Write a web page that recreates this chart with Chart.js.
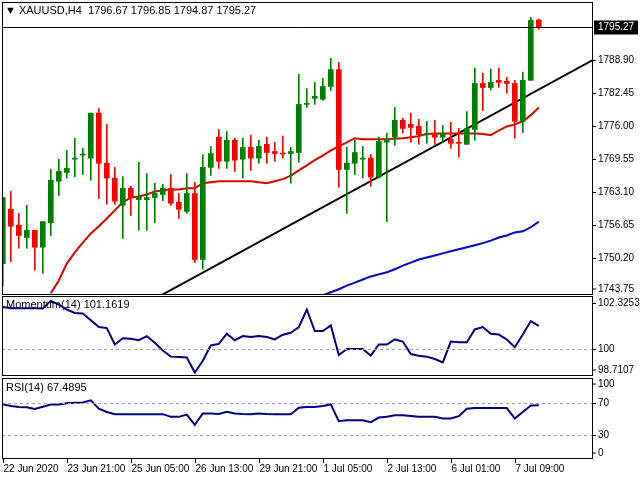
<!DOCTYPE html>
<html>
<head>
<meta charset="utf-8">
<script src="https://cdn.jsdelivr.net/npm/chart.js@4.4.1/dist/chart.umd.min.js"></script>
<style>
  body { margin: 0; background: #fff; width: 640px; height: 480px; overflow: hidden; position: relative; font-family: "Liberation Sans", sans-serif; }
  canvas { position: absolute; left: 0; }
  .lbl { position: absolute; font-size: 11px; color: #000; white-space: pre; }
</style>
</head>
<body>
<canvas id="main" width="640" height="295" style="top:0px"></canvas>
<canvas id="mom" width="640" height="81" style="top:295px"></canvas>
<canvas id="rsi" width="640" height="103" style="top:377px"></canvas>
<div class="lbl" style="left:5px;top:4px">▼ XAUUSD,H4  1796.67 1796.85 1794.87 1795.27</div>
<div class="lbl" style="left:6px;top:298px">Momentum(14) 101.1619</div>
<div class="lbl" style="left:6px;top:381px">RSI(14) 67.4895</div>
<script>
(() => {
  'use strict'

  // H4 candles, one every 4h
  var open  = [1749.1,1759.7,1756.6,1754.2,1755.6,1752.3,1757.1,1765.2,1766.9,1769.5,1770.3,1769.7,1778.5,1768.7,1765.8,1760.5,1763.8,1761.6,1761.6,1762.0,
               1762.6,1763.8,1761.1,1759.3,1762.8,1749.9,1767.9,1773.8,1769.1,1773.2,1769.5,1771.8,1769.7,1772.4,1771.0,1770.7,1770.6,1770.8,1780.2,1781.4,
               1781.2,1783.7,1787.0,1767.5,1768.7,1769.5,1769.7,1766.0,1772.8,1773.8,1777.1,1776.3,1775.9,1774.3,1774.5,1773.8,1773.4,1772.8,1772.4,1775.3,
               1784.3,1783.5,1784.9,1784.7,1784.3,1776.9,1784.9,1796.67]
  var high  = [1762.0,1763.2,1758.9,1760.5,1755.6,1757.3,1767.5,1769.5,1771.2,1773.6,1771.6,1778.5,1779.4,1776.3,1767.9,1766.1,1764.2,1768.9,1766.7,1764.8,
               1764.6,1766.5,1762.8,1766.7,1765.0,1770.4,1772.0,1775.3,1774.9,1773.6,1773.6,1774.2,1773.2,1773.8,1772.8,1774.0,1771.8,1786.1,1783.3,1784.5,
               1785.3,1789.2,1788.4,1771.8,1773.2,1772.0,1770.4,1773.8,1774.6,1779.6,1777.5,1778.5,1777.3,1776.9,1777.1,1776.1,1776.7,1775.5,1778.8,1787.3,
               1786.3,1787.1,1787.3,1785.5,1784.9,1786.5,1797.2,1796.85]
  var low   = [1744.8,1749.5,1752.1,1752.1,1747.8,1747.2,1754.6,1762.4,1765.8,1766.1,1766.5,1765.4,1761.8,1760.7,1760.7,1754.0,1758.5,1755.6,1755.6,1757.1,
               1761.4,1760.5,1757.9,1758.9,1749.3,1748.0,1766.3,1767.7,1767.7,1767.1,1765.8,1767.3,1768.7,1768.7,1769.1,1769.7,1764.8,1768.9,1779.6,1780.2,
               1781.0,1782.9,1764.0,1758.9,1766.5,1765.8,1764.2,1765.8,1757.3,1772.2,1774.6,1772.8,1772.4,1772.6,1772.4,1772.8,1771.6,1769.9,1772.4,1773.2,
               1779.0,1783.0,1783.5,1782.4,1773.6,1774.7,1784.9,1794.87]
  var close = [1762.0,1756.4,1754.6,1755.6,1752.3,1757.3,1765.4,1767.1,1767.7,1769.7,1770.5,1778.5,1768.7,1765.8,1761.3,1763.8,1762.0,1762.2,1762.0,1762.8,
               1763.8,1760.9,1759.7,1762.8,1749.9,1767.9,1770.6,1769.1,1773.2,1769.3,1771.8,1769.7,1772.0,1770.8,1770.6,1770.5,1771.0,1780.2,1780.4,1781.8,
               1783.7,1787.0,1767.5,1768.7,1770.8,1769.7,1766.0,1773.0,1773.4,1777.1,1775.5,1775.7,1774.3,1774.5,1773.8,1774.5,1772.6,1772.6,1775.5,1784.3,
               1783.5,1784.5,1784.5,1784.3,1776.9,1784.9,1796.6,1795.27]

  var maFast = [null,null,null,null,null,null,1743.3,1745.8,1749.1,1751.3,1753.2,1755.0,1756.4,1757.9,1759.5,1761.1,1762.0,1762.2,1762.6,1763.2,
                1763.4,1763.6,1763.6,1763.8,1763.8,1764.8,1765.0,1765.2,1765.2,1765.2,1765.2,1765.2,1765.0,1764.8,1765.2,1765.6,1766.3,1767.3,1768.3,1769.3,
                1770.2,1771.2,1772.0,1772.8,1773.6,1773.4,1773.4,1773.4,1773.4,1773.5,1773.6,1773.8,1774.0,1774.4,1774.5,1774.5,1774.5,1774.5,1774.5,1774.5,
                1774.4,1774.2,1775.1,1775.9,1776.3,1776.9,1778.1,1779.6]
  var maSlow = [null,null,null,null,null,null,null,null,null,null,null,null,null,null,null,null,null,null,null,null,
                null,null,null,null,null,null,null,null,null,null,null,null,null,null,null,null,null,null,null,null,
                1742.9,1743.5,1744.1,1744.8,1745.4,1746.0,1746.6,1747.0,1747.4,1748.0,1748.7,1749.3,1749.9,1750.3,1750.7,1751.1,1751.5,1751.9,1752.3,1752.7,
                1753.1,1753.6,1754.2,1754.6,1755.2,1755.4,1756.2,1757.3]

  var momentum = [102.13,102.07,102.07,102.07,102.06,102.05,102.44,102.25,102.0,101.82,101.8,101.45,101.10,101.05,100.21,100.53,100.5,100.43,100.64,100.3,
                  99.9,99.59,99.57,99.55,98.78,99.38,100.16,100.24,100.76,100.43,100.64,100.59,100.64,100.59,100.47,100.71,100.81,101.10,102.0,100.9,
                  100.9,101.19,99.67,99.98,99.98,99.98,99.64,100.21,100.21,100.47,100.36,99.72,99.64,99.59,99.47,99.3,100.36,100.33,100.33,100.98,
                  101.10,100.76,100.72,100.47,100.07,100.72,101.41,101.1619]
  var rsi = [68.7,66.5,65.0,64.8,62.5,65.5,68.4,68.4,70.0,70.4,70.8,73.6,62.9,58.8,55.8,56.0,56.0,56.0,56.0,56.0,
             56.0,52.6,52.6,55.5,42.4,57.0,57.0,56.2,59.0,57.0,56.2,55.8,57.0,56.2,55.8,55.8,55.8,64.2,65.0,65.0,
             66.3,68.4,47.1,48.3,48.3,48.3,45.9,51.7,52.6,54.6,54.6,53.8,52.6,52.6,52.6,50.5,50.5,53.4,62.9,63.8,
             63.8,63.8,63.8,63.8,50.5,58.8,67.1,67.4895]

  // trend line anchors (bar index, price)
  var trendX = [19.9, 73.8]
  var trendY = [1743.0, 1788.9]

  var priceTicks = [1788.90,1782.45,1776.00,1769.55,1763.10,1756.65,1750.20,1743.75]
  var momTicks = [102.3253,100,98.7107]
  var rsiTicks = [100,70,30,0]
  var timeTicks = [0,8,16,24,32,40,48,56,64]
  var timeLabels = ['22 Jun 2020','23 Jun 21:00','25 Jun 05:00','26 Jun 13:00','29 Jun 21:00','1 Jul 05:00','2 Jul 13:00','6 Jul 01:00','7 Jul 09:00']
  var lastPrice = 1795.27

  var GREEN = '#008000', RED = '#ff0000'
  var XMIN = -0.1, XMAX = -0.1 + 591 / 8

  var pts = arr => arr.map((v, i) => ({ x: i, y: v }))
  var candleCol = open.map((o, i) => close[i] >= o ? GREEN : RED)

  // draws frame, right-hand tick labels, dashed levels, price tag and time labels
  var frame = {
    id: 'frame',
    afterDraw(chart, args, opts) {
      var c = chart.ctx, a = chart.chartArea, y = chart.scales.y, x = chart.scales.x
      c.save()
      c.font = '10px Liberation Sans'
      c.lineWidth = 1
      c.setLineDash([3, 3])
      c.strokeStyle = '#a0a0a0'
      ;(opts.dashed || []).forEach(v => {
        var py = Math.round(y.getPixelForValue(v)) + 0.5
        c.beginPath(); c.moveTo(a.left, py); c.lineTo(a.right, py); c.stroke()
      })
      c.setLineDash([])
      c.strokeStyle = '#000'
      c.fillStyle = '#000'
      c.textBaseline = 'middle'
      opts.ticks.forEach(v => {
        var py = Math.round(y.getPixelForValue(v)) + 0.5
        py = Math.max(a.top + 6, Math.min(a.bottom - 6, py))
        c.beginPath(); c.moveTo(a.right, py); c.lineTo(a.right + 3, py); c.stroke()
        c.fillText(opts.fmt(v), a.right + 5, py)
      })
      if (opts.price) {
        var pp = Math.round(y.getPixelForValue(opts.price)) + 0.5
        c.beginPath(); c.moveTo(a.left, pp); c.lineTo(a.right, pp); c.stroke()
        c.fillRect(a.right + 1, pp - 7, 44, 14)
        c.fillStyle = '#fff'
        c.fillText(opts.price.toFixed(2), a.right + 5, pp)
        c.fillStyle = '#000'
      }
      if (opts.time) {
        c.textBaseline = 'top'
        timeTicks.forEach((t, i) => {
          var px = Math.round(x.getPixelForValue(t)) + 0.5
          c.beginPath(); c.moveTo(px, a.bottom); c.lineTo(px, a.bottom + 4); c.stroke()
          c.fillText(timeLabels[i], px, a.bottom + 5)
        })
      }
      c.strokeRect(a.left + 0.5, a.top + 0.5, a.right - a.left - 1, a.bottom - a.top - 1)
      c.restore()
    }
  }

  var xScale = { type: 'linear', min: XMIN, max: XMAX, display: false, offset: false }
  var yScale = (min, max) => ({ min: min, max: max, display: false })

  var common = {
    responsive: false, animation: false, devicePixelRatio: 1,
    plugins: { legend: { display: false }, tooltip: { enabled: false } }
  }

  new Chart(document.getElementById('main'), {
    data: {
      datasets: [
        { type: 'line', data: pts(maSlow), borderColor: '#0000cc', borderWidth: 2, pointRadius: 0 },
        { type: 'bar', data: pts(low.map((l, i) => [l, high[i]])), backgroundColor: candleCol, barThickness: 1, grouped: false },
        { type: 'bar', data: pts(open.map((o, i) => [o, close[i]])), backgroundColor: candleCol, barThickness: 5, minBarLength: 1, grouped: false },
        { type: 'line', data: pts(maFast), borderColor: '#e00000', borderWidth: 2, pointRadius: 0 },
        { type: 'line', data: trendX.map((x, i) => ({ x: x, y: trendY[i] })), borderColor: '#000', borderWidth: 2, pointRadius: 0 }
      ]
    },
    options: Object.assign({}, common, {
      layout: { padding: { left: 2, right: 47, top: 2, bottom: 0 } },
      scales: { x: xScale, y: yScale(1742.97, 1800.2) },
      plugins: Object.assign({}, common.plugins, { frame: { price: lastPrice, ticks: priceTicks, fmt: v => v.toFixed(2) } })
    }),
    plugins: [frame]
  })

  new Chart(document.getElementById('mom'), {
    type: 'line',
    data: { datasets: [{ data: pts(momentum), borderColor: '#000080', borderWidth: 2, pointRadius: 0, tension: 0 }] },
    options: Object.assign({}, common, {
      layout: { padding: { left: 2, right: 47, top: 1, bottom: 0 } },
      scales: { x: xScale, y: yScale(98.6, 102.69) },
      plugins: Object.assign({}, common.plugins, { frame: { dashed: [100], ticks: momTicks, fmt: v => String(v) } })
    }),
    plugins: [frame]
  })

  new Chart(document.getElementById('rsi'), {
    type: 'line',
    data: { datasets: [{ data: pts(rsi), borderColor: '#000080', borderWidth: 2, pointRadius: 0, tension: 0 }] },
    options: Object.assign({}, common, {
      layout: { padding: { left: 2, right: 47, top: 1, bottom: 21 } },
      scales: { x: xScale, y: yScale(-1, 102) },
      plugins: Object.assign({}, common.plugins, { frame: { dashed: [70, 30], ticks: rsiTicks, fmt: v => String(v), time: true } })
    }),
    plugins: [frame]
  })
})()
</script>
</body>
</html>
